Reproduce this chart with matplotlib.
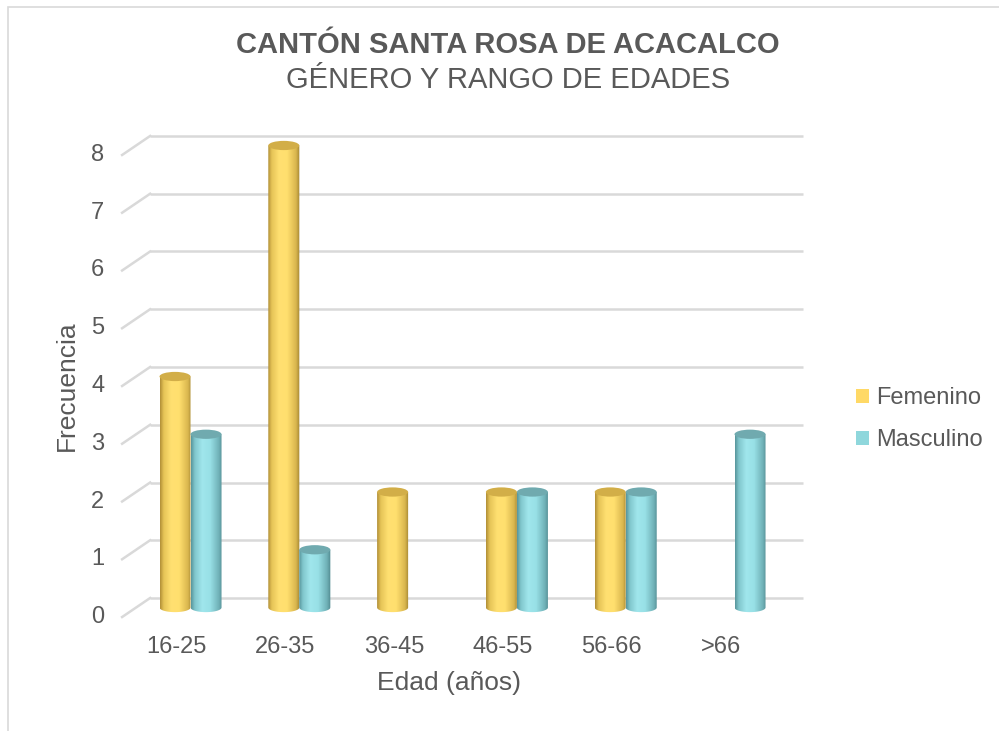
import numpy as np
import matplotlib
matplotlib.use("Agg")
import matplotlib.pyplot as plt
from matplotlib.colors import LinearSegmentedColormap
from matplotlib.patches import Polygon, Ellipse, Patch, Rectangle

# ---- data ----
categories = ["16-25", "26-35", "36-45", "46-55", "56-66", ">66"]
femenino = [4, 8, 2, 2, 2, 0]
masculino = [3, 1, 0, 2, 2, 3]
series_names = ["Femenino", "Masculino"]
yticks = [0, 1, 2, 3, 4, 5, 6, 7, 8]

title = "CANTÓN SANTA ROSA DE ACACALCO"
subtitle = "GÉNERO Y RANGO DE EDADES"
xlabel = "Edad (años)"
ylabel = "Frecuencia"

# ---- style ----
plt.rcParams["font.family"] = ["Liberation Sans", "DejaVu Sans"]
TXT = "#595959"
GRID = "#d9d9d9"

yellow_cmap = LinearSegmentedColormap.from_list(
    "cyl_y", [(0.0, "#b08e36"), (0.12, "#e6c457"), (0.35, "#ffe071"),
              (0.6, "#ffdf6e"), (0.88, "#d9b64e"), (1.0, "#a08332")])
teal_cmap = LinearSegmentedColormap.from_list(
    "cyl_t", [(0.0, "#56949a"), (0.12, "#80c6cc"), (0.35, "#a0e6ec"),
              (0.6, "#98e0e6"), (0.88, "#6fb0b6"), (1.0, "#4f888d")])
top_colors = ["#d2ae48", "#70aaaf"]
legend_colors = ["#ffd966", "#8fd7dc"]
cmaps = [yellow_cmap, teal_cmap]

fig = plt.figure(figsize=(9.99, 7.31), dpi=100)
ax = fig.add_axes([0, 0, 1, 1])
ax.set_axis_off()

# chart frame
fig.patches.append(Rectangle((8 / 999, -0.05), 1.2, 1 - 7 / 731 + 0.05,
                             transform=fig.transFigure, fill=False,
                             edgecolor=GRID, lw=1.2))

# depth offsets of the 3-D box (category units / value units)
DX = 0.1287
DY = 0.1645
LEFT = -0.5
RIGHT = len(categories) - 0.5
BAR_W = 0.285
ELL_H = 0.16

# walls: back gridlines and the left-wall diagonals
for v in yticks:
    ax.plot([LEFT + DX, RIGHT + DX], [v + DY, v + DY], color=GRID, lw=1.8,
            solid_capstyle="butt", zorder=1)
    ax.plot([LEFT - DX, LEFT + DX], [v - DY, v + DY], color=GRID, lw=1.8,
            zorder=1)
    ax.text(LEFT - DX - 0.165, v - DY, str(v), ha="right", va="center",
            fontsize=17, color=TXT)


def cylinder(xc, h, cmap, top_color, z):
    x0, x1 = xc - BAR_W / 2, xc + BAR_W / 2
    th = np.linspace(np.pi, 2 * np.pi, 60)
    arc = list(zip(xc + BAR_W / 2 * np.cos(th), ELL_H / 2 * np.sin(th)))
    body = Polygon([(x0, h)] + arc + [(x1, h)], closed=True,
                   facecolor="none", edgecolor="none")
    ax.add_patch(body)
    grad = np.linspace(0, 1, 256).reshape(1, -1)
    im = ax.imshow(grad, cmap=cmap, extent=[x0, x1, -ELL_H, h + ELL_H],
                   aspect="auto", origin="lower", zorder=z,
                   interpolation="bilinear")
    im.set_clip_path(body)
    ax.add_patch(Ellipse((xc, h), BAR_W, ELL_H, facecolor=top_color,
                         edgecolor="none", zorder=z + 0.1))


offsets = [-BAR_W / 2, BAR_W / 2]
for s, vals in enumerate([femenino, masculino]):
    for i, v in enumerate(vals):
        if v > 0:
            cylinder(i + offsets[s], v, cmaps[s], top_colors[s], 3 + s)

# category labels at the front edge
for i, c in enumerate(categories):
    ax.text(i - DX, -0.684, c, ha="center", va="center", fontsize=17,
            color=TXT)

ax.text((LEFT + RIGHT) / 2 - DX, -1.307, xlabel, ha="center", va="center",
        fontsize=19, color=TXT)
ax.text(-1.135, (yticks[0] + yticks[-1]) / 2 - DY, ylabel, ha="center",
        va="center", rotation=90, fontsize=19, color=TXT)

# map categories/values onto the canvas
ax.set_xlim(-1.751, 7.431)
ax.set_ylim(-2.138, 10.519)
ax.set_aspect("auto")

fig.text(508 / 999, 1 - 45 / 731, title, ha="center", va="center",
         fontsize=21, fontweight="bold", color=TXT)
fig.text(508 / 999, 1 - 80 / 731, subtitle, ha="center", va="center",
         fontsize=21, color=TXT)

handles = [Patch(facecolor=c, edgecolor="none") for c in legend_colors]
leg = fig.legend(handles, series_names, loc="center left",
                 bbox_to_anchor=(847 / 999, 1 - 419 / 731), frameon=False,
                 fontsize=17, handlelength=0.55, handleheight=0.55,
                 handletextpad=0.3, labelspacing=0.85, borderaxespad=0)
for t in leg.get_texts():
    t.set_color(TXT)

fig.savefig("out.png", dpi=100)
